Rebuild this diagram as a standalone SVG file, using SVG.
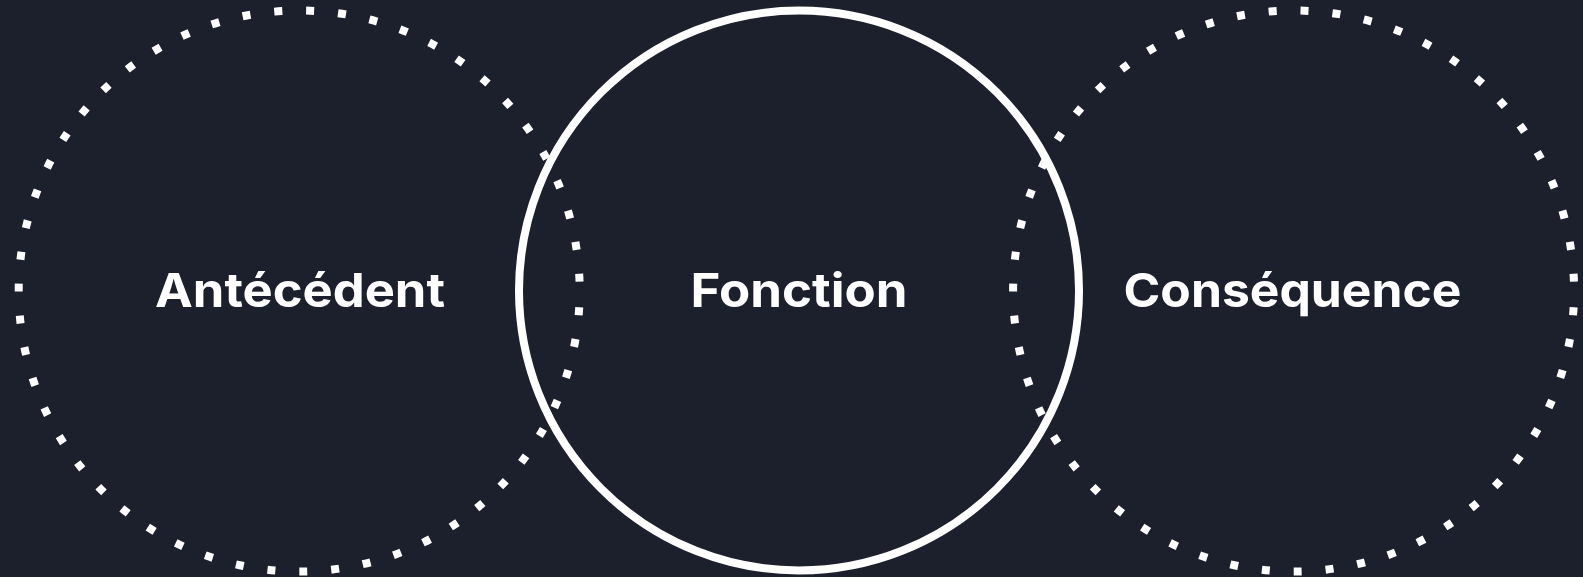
<svg xmlns="http://www.w3.org/2000/svg" width="1583" height="577" viewBox="0 0 1583 577">
  <style>
    .dotted { fill: none; stroke: #ffffff; stroke-width: 8; stroke-dasharray: 8 24; stroke-dashoffset: 15.7; }
    .solid { fill: none; stroke: #ffffff; stroke-width: 8; }
    .label { font-family: Inter, "Open Sans", "Liberation Sans", sans-serif; font-weight: 700; font-size: 47px; fill: #ffffff; text-anchor: middle; }
  </style>
  <rect x="0" y="0" width="1583" height="577" fill="#1c202c"/>
  <g id="antecedent">
    <circle class="dotted" cx="299.2" cy="291" r="280.5"/>
    <text class="label" x="300" y="307" textLength="290" lengthAdjust="spacingAndGlyphs">Antécédent</text>
  </g>
  <g id="consequence">
    <circle class="dotted" cx="1293.6" cy="291" r="280.5"/>
    <text class="label" x="1292.5" y="307" textLength="338" lengthAdjust="spacingAndGlyphs">Conséquence</text>
  </g>
  <g id="fonction">
    <circle class="solid" cx="799" cy="290.5" r="280"/>
    <text class="label" x="799" y="307" textLength="217" lengthAdjust="spacingAndGlyphs">Fonction</text>
  </g>
  <g id="connectors"/>
</svg>
